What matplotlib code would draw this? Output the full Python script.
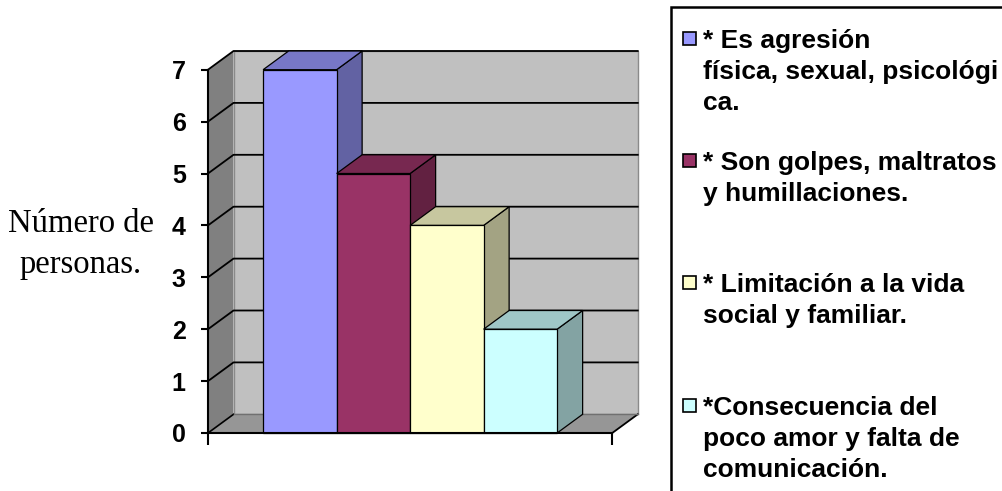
import matplotlib
matplotlib.use('Agg')
import matplotlib.pyplot as plt
from matplotlib.patches import Polygon, Rectangle
from matplotlib.colors import to_rgb

# data
categories = ['* Es agresión\nfísica, sexual, psicológi\nca.',
              '* Son golpes, maltratos\ny humillaciones.',
              '* Limitación a la vida\nsocial y familiar.',
              '*Consecuencia del\npoco amor y falta de\ncomunicación.']
values = [7, 5, 4, 2]
colors = ['#9999FF', '#993366', '#FFFFCC', '#CCFFFF']
yticks = [0, 1, 2, 3, 4, 5, 6, 7]
ylabel = 'Número de\npersonas.'

W, H = 1003, 491
fig = plt.figure(figsize=(W / 100, H / 100), dpi=100)

def shade(c, f):
    r, g, b = to_rgb(c)
    return (r * f, g * f, b * f)

def ftext(x, y, s, step, **kw):
    # one text per line so the line pitch is fixed in pixels
    for k, line in enumerate(s.split('\n')):
        fig.text(x / W, 1 - (y + k * step) / H, line, va='baseline', **kw)

# plot area (pixels): front corner of the value axis and scale
x0, y0 = 208, 433
px_x, px_y = 73.5, 51.9
left, right, top, bottom = 150, 660, 20, 470
ax = fig.add_axes([left / W, 1 - bottom / H, (right - left) / W, (bottom - top) / H])
ax.set_xlim((left - x0) / px_x, (right - x0) / px_x)
ax.set_ylim((y0 - bottom) / px_y, (y0 - top) / px_y)
ax.patch.set_visible(False)

dx, dy = 25.5 / px_x, 18.7 / px_y   # depth of the 3d box
gap = 0.75
n = len(values)
xr = 2 * gap + n
ymax = yticks[-1]

# walls and floor
ax.add_patch(Rectangle((dx, dy), xr, ymax, fc='#C0C0C0', ec='#8a8a8a', lw=1, zorder=1))
ax.add_patch(Polygon([(0, 0), (0, ymax), (dx, ymax + dy), (dx, dy)],
                     fc='#808080', ec='none', zorder=1))
ax.add_patch(Polygon([(0, 0), (xr, 0), (xr + dx, dy), (dx, dy)],
                     fc='#969696', ec='none', zorder=1))
ax.plot([xr, xr + dx], [0, dy], color='k', lw=1.3, zorder=2)

# gridlines on side wall and back wall
for v in yticks:
    if v == 0:
        ax.plot([0, dx], [0, dy], color='k', lw=1.2, zorder=2)
        ax.plot([dx, xr + dx], [dy, dy], color='#707070', lw=1, zorder=2)
    else:
        ax.plot([0, dx, xr + dx], [v, v + dy, v + dy], color='k', lw=1.3, zorder=2)

# bars: front, top and side faces
for i, (v, c) in enumerate(zip(values, colors)):
    xl = gap + i
    z = 3 + i
    ax.add_patch(Polygon([(xl + 1, 0), (xl + 1 + dx, dy), (xl + 1 + dx, v + dy), (xl + 1, v)],
                         fc=shade(c, 0.64), ec='k', lw=0.9, zorder=z))
    ax.add_patch(Polygon([(xl, v), (xl + 1, v), (xl + 1 + dx, v + dy), (xl + dx, v + dy)],
                         fc=shade(c, 0.78), ec='k', lw=0.9, zorder=z))
    ax.bar(xl, v, width=1, align='edge', color=c, edgecolor='k', lw=0.9, zorder=z + 0.5)

# axes
for s in ['top', 'right']:
    ax.spines[s].set_visible(False)
ax.spines['left'].set_position(('data', 0))
ax.spines['left'].set_bounds(0, ymax)
ax.spines['bottom'].set_position(('data', 0))
ax.spines['bottom'].set_bounds(0, xr)
ax.spines['left'].set_linewidth(1.5)
ax.spines['bottom'].set_linewidth(1.5)
ax.spines['left'].set_zorder(10)
ax.spines['bottom'].set_zorder(10)
ax.set_yticks(yticks)
ax.set_xticks([0, xr])
ax.set_xticklabels([])
ax.tick_params(axis='y', direction='out', length=5, width=1.5, pad=11)
ax.tick_params(axis='x', direction='out', length=8.5, width=1.5)
for t in ax.get_yticklabels():
    t.set_fontfamily('Liberation Sans')
    t.set_fontweight('bold')
    t.set_fontsize(18)

# axis title
ftext(81, 232, ylabel, 41, ha='center', family='Liberation Serif', fontsize=23.5)

# legend
fig.add_artist(Rectangle((671 / W, 1 - 600 / H), 400 / W, (600 - 7) / H,
                         transform=fig.transFigure, fill=False, ec='k', lw=1.8))
legend_base = [48, 170, 292, 415]
for lab, c, yb in zip(categories, colors, legend_base):
    yc = yb - 9.5
    fig.add_artist(Rectangle((683 / W, 1 - (yc + 6.5) / H), 13 / W, 13 / H,
                             transform=fig.transFigure, fc=c, ec='k', lw=1.2))
    ftext(703, yb, lab, 31, ha='left', family='Liberation Sans',
          fontweight='bold', fontsize=19)

fig.savefig('out.png', dpi=100)
